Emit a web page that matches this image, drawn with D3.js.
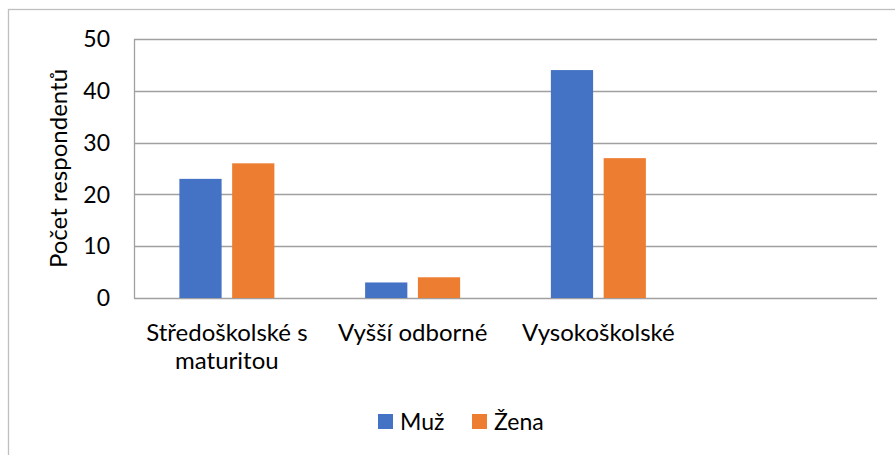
<!DOCTYPE html>
<html lang="cs">
<head>
  <meta charset="utf-8">
  <script src="https://cdn.jsdelivr.net/npm/d3@7"></script>
  <style>
    body{margin:0;background:white;}
    text{font-family:Lato,"Noto Sans",sans-serif;fill:#000;}
  </style>
</head>
<body>
  <div id="chart"></div>
  <script type="text/javascript">
    // data
    var categories=["Středoškolské s maturitou","Vyšší odborné","Vysokoškolské",""];
    var series=["Muž","Žena"];
    var muz=[23,3,44,null];
    var zena=[26,4,27,null];
    var yTicks=[0,10,20,30,40,50];
    var colors=["#4472C4","#ED7D31"];

    var width=895;
    var height=455;
    var plotL=134, plotT=39, plotR=877, plotB=298;

    var svg=d3.select("#chart")
      .append("svg")
      .attr("width",width)
      .attr("height",height);

    //chart border
    svg.append("rect")
      .attr("x",8.5)
      .attr("y",9.5)
      .attr("width",width+20)
      .attr("height",height+20)
      .attr("fill","white")
      .attr("stroke","#bfbfbf")
      .attr("stroke-width",1.3);

    var y=d3.scaleLinear().domain([0,50]).range([plotB,plotT]);
    var x=d3.scaleBand().domain(categories).range([plotL,plotR]).padding(0);
    var groupW=95;
    var x1=d3.scaleBand().domain(series).range([0,groupW]).paddingInner(0.2);

    //gridlines
    svg.append("g")
      .selectAll("line")
      .data(yTicks)
      .enter()
      .append("line")
      .attr("x1",plotL)
      .attr("x2",plotR)
      .attr("y1",function(d){return Math.round(y(d))+0.5;})
      .attr("y2",function(d){return Math.round(y(d))+0.5;})
      .attr("stroke","#a0a0a0")
      .attr("stroke-width",1.3);

    svg.append("line")
      .attr("x1",plotL+0.5).attr("x2",plotL+0.5)
      .attr("y1",plotT).attr("y2",plotB+0.5)
      .attr("stroke","#a0a0a0")
      .attr("stroke-width",1.3);

    //tick labels
    svg.append("g")
      .selectAll("text")
      .data(yTicks)
      .enter()
      .append("text")
      .attr("x",110)
      .attr("y",function(d){return y(d);})
      .attr("dy","0.36em")
      .attr("text-anchor","end")
      .style("font-size","23px")
      .text(function(d){return d;});

    //bars
    var rows=categories.map(function(c,i){return {cat:c,vals:[muz[i],zena[i]]};});
    var groups=svg.append("g")
      .selectAll("g")
      .data(rows)
      .enter()
      .append("g")
      .attr("transform",function(d){return "translate("+(x(d.cat)+(x.bandwidth()-groupW)/2)+",0)";});

    groups.selectAll("rect")
      .data(function(d){return d.vals.map(function(v,i){return {s:series[i],v:v,i:i};}).filter(function(e){return e.v!=null;});})
      .enter()
      .append("rect")
      .attr("x",function(d){return x1(d.s);})
      .attr("width",x1.bandwidth())
      .attr("y",function(d){return y(d.v);})
      .attr("height",function(d){return y(0)-y(d.v);})
      .attr("fill",function(d){return colors[d.i];});

    //category labels
    var labels=svg.append("g")
      .selectAll("text")
      .data(categories)
      .enter()
      .append("text")
      .attr("x",function(d){return x(d)+x.bandwidth()/2;})
      .attr("y",341)
      .attr("text-anchor","middle")
      .style("font-size","24px")
      .each(function(d){
        var el=d3.select(this);
        var words=d.split(" ");
        var line=[];
        var tspan=el.append("tspan").attr("x",x(d)+x.bandwidth()/2).attr("dy",0);
        words.forEach(function(w){
          line.push(w);
          tspan.text(line.join(" "));
          if(tspan.node().getComputedTextLength()>x.bandwidth()-8 && line.length>1){
            line.pop();
            tspan.text(line.join(" "));
            line=[w];
            tspan=el.append("tspan").attr("x",x(d)+x.bandwidth()/2).attr("dy","1.17em").text(w);
          }
        });
      });

    //y axis title
    svg.append("text")
      .attr("transform","translate(67,"+((plotT+plotB)/2)+") rotate(-90)")
      .attr("text-anchor","middle")
      .style("font-size","24px")
      .text("Počet respondentů");

    //legend
    var legendX=[378,472];
    var legend=svg.append("g")
      .selectAll("g")
      .data(series)
      .enter()
      .append("g")
      .attr("transform",function(d,i){return "translate("+legendX[i]+",414)";});

    legend.append("rect")
      .attr("width",15)
      .attr("height",15)
      .attr("fill",function(d,i){return colors[i];});

    legend.append("text")
      .attr("x",22)
      .attr("y",16)
      .style("font-size","23px")
      .text(function(d){return d;});
  </script>
</body>
</html>
